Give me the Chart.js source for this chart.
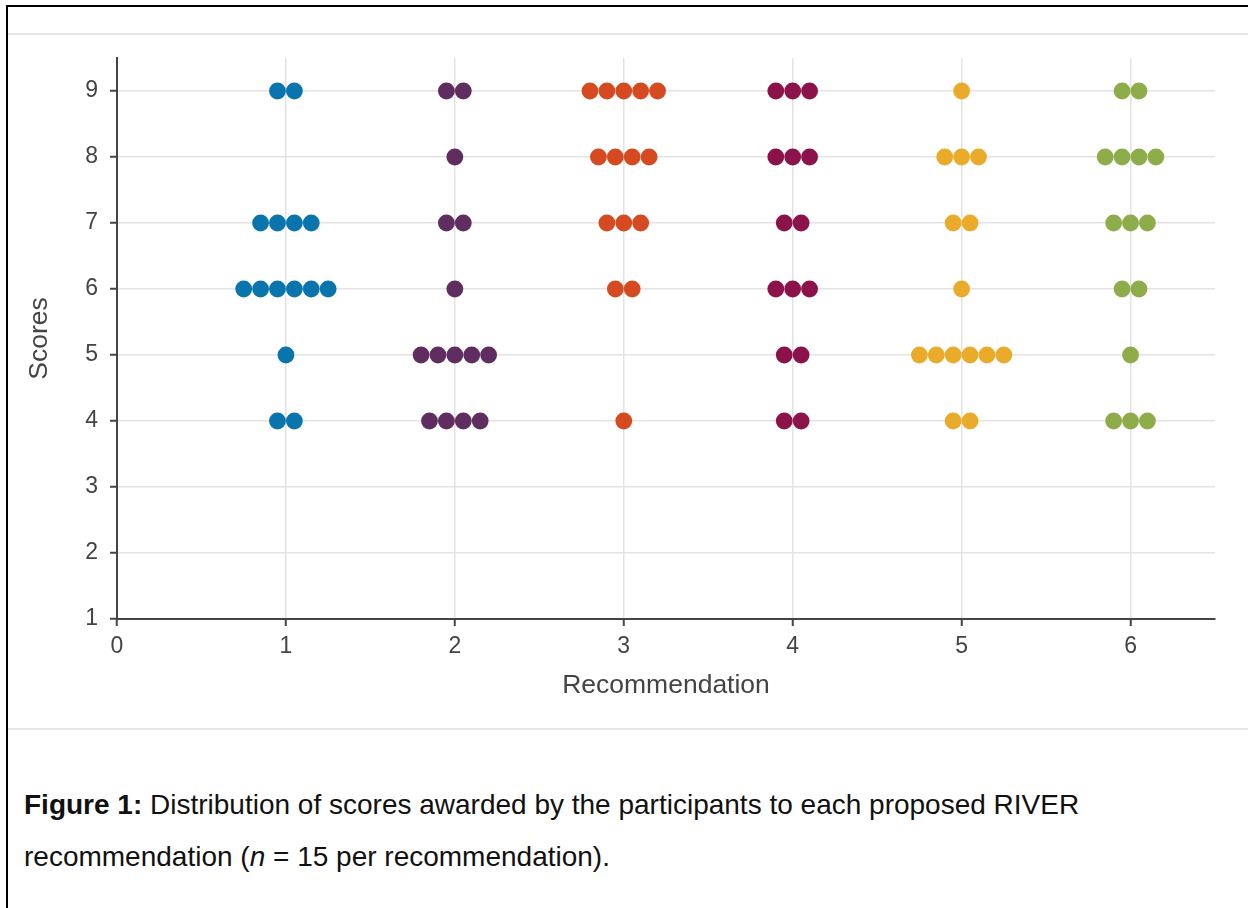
<!DOCTYPE html>
<html>
<head>
<meta charset="utf-8">
<script src="https://cdn.jsdelivr.net/npm/chart.js@4"></script>
<style>
  html, body { margin: 0; padding: 0; background: #fff; }
  body { width: 1248px; height: 908px; position: relative; overflow: hidden; font-family: "Liberation Sans", Arial, sans-serif; }
  #frame { position: absolute; left: 6px; top: 5px; width: 1300px; height: 1000px; border-left: 2px solid #000; border-top: 2px solid #000; }
  #panel { position: absolute; left: 8px; top: 33px; width: 1260px; height: 693px; border-top: 2px solid #e6e6e6; border-bottom: 2px solid #e6e6e6; }
  #wrap { position: absolute; left: 0; top: 0; width: 1240px; height: 693px; }
  #caption { position: absolute; left: 24px; top: 779px; font-size: 28px; line-height: 52px; color: #111; white-space: nowrap; }
</style>
</head>
<body>
<div id="frame"></div>
<div id="panel"><div id="wrap"><canvas id="chart"></canvas></div></div>
<div id="caption"><b>Figure 1:</b> Distribution of scores awarded by the participants to each proposed RIVER<br>recommendation (<i>n</i> = 15 per recommendation).</div>
<script>
// Score levels and how many participants gave each score, per recommendation
const scores = [4, 5, 6, 7, 8, 9];
const rec1Counts = [2, 1, 6, 4, 0, 2];
const rec2Counts = [4, 5, 1, 2, 1, 2];
const rec3Counts = [1, 0, 2, 3, 4, 5];
const rec4Counts = [2, 2, 3, 2, 3, 3];
const rec5Counts = [2, 6, 1, 2, 3, 1];
const rec6Counts = [3, 1, 2, 3, 4, 2];
const recColors = ['#0a74ad', '#5f2d60', '#d64a21', '#8c1349', '#ebab2a', '#8fac4b'];

const allCounts = [rec1Counts, rec2Counts, rec3Counts, rec4Counts, rec5Counts, rec6Counts];
const dotStep = 0.1; // horizontal spacing of stacked dots

function dotsFor(rec, counts) {
    const pts = [];
    counts.forEach((n, i) => {
        for (let k = 0; k < n; k++) {
            pts.push({ x: rec + (k - (n - 1) / 2) * dotStep, y: scores[i] });
        }
    });
    return pts;
}

const datasets = allCounts.map((counts, idx) => ({
    label: 'Recommendation ' + (idx + 1),
    data: dotsFor(idx + 1, counts),
    backgroundColor: recColors[idx],
    borderWidth: 0,
    pointRadius: 8.4,
    pointHoverRadius: 8.4
}));

const tickFont = { family: 'Liberation Sans', size: 23 };
const titleFont = { family: 'Liberation Sans', size: 26.5 };
const onlyWhole = scale => { scale.ticks = scale.ticks.filter(t => Number.isInteger(t.value)); };

new Chart(document.getElementById('chart'), {
    type: 'scatter',
    data: { datasets },
    options: {
        responsive: true,
        maintainAspectRatio: false,
        animation: false,
        layout: { padding: { top: 23, right: 33, bottom: 26, left: 16 } },
        plugins: { legend: { display: false }, tooltip: { enabled: false } },
        scales: {
            x: {
                min: 0, max: 6.5,
                afterBuildTicks: onlyWhole,
                afterFit: s => { s.height = 83; s.paddingLeft = 0; s.paddingRight = 0; },
                ticks: { stepSize: 1, color: '#444', font: tickFont, padding: 7, maxRotation: 0 },
                grid: { color: '#e3e3e3', lineWidth: 1.5, tickColor: '#444', tickLength: 7, tickWidth: 2 },
                border: { color: '#444', width: 2 },
                title: { display: true, text: 'Recommendation', color: '#444', font: titleFont, padding: 0 }
            },
            y: {
                min: 1, max: 9.5,
                afterBuildTicks: onlyWhole,
                afterFit: s => { s.width = 93; s.paddingTop = 0; s.paddingBottom = 0; },
                ticks: { stepSize: 1, color: '#444', font: tickFont, padding: 12 },
                grid: { color: '#e3e3e3', lineWidth: 1.5, tickColor: '#444', tickLength: 7, tickWidth: 2 },
                border: { color: '#444', width: 2 },
                title: { display: true, text: 'Scores', color: '#444', font: titleFont, padding: 0 }
            }
        }
    }
});
</script>
</body>
</html>
